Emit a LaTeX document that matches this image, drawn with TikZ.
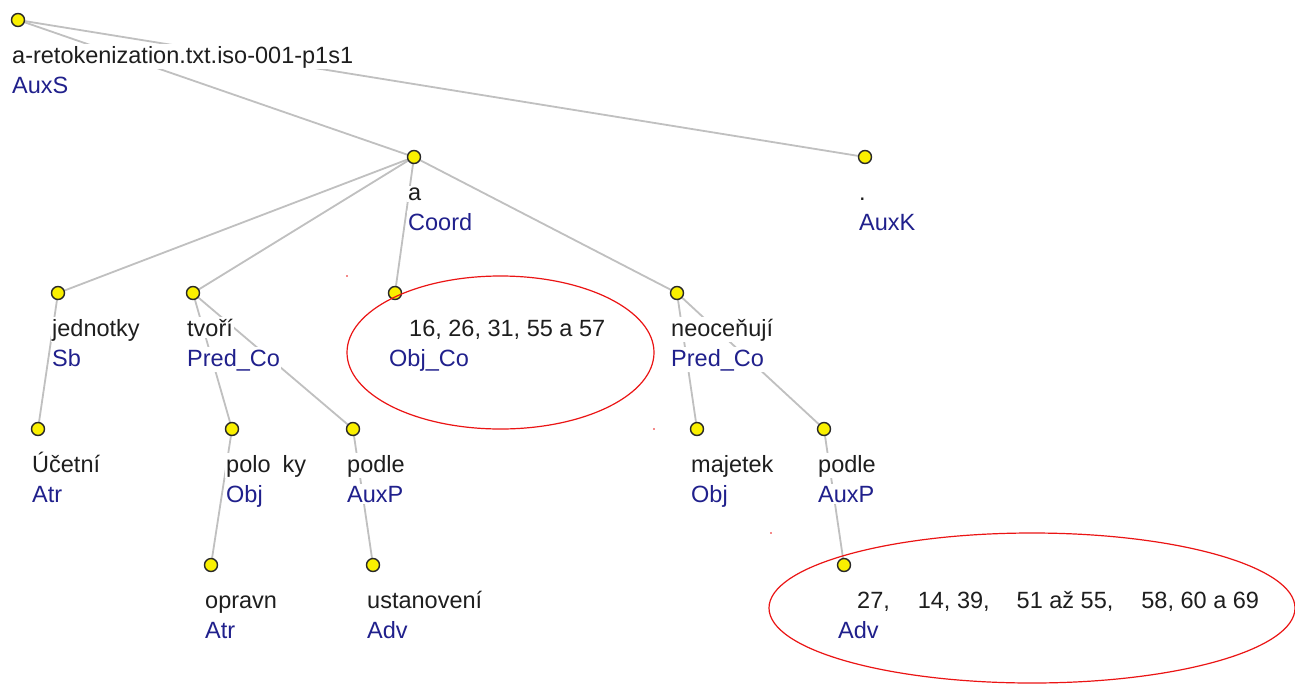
\documentclass[tikz,border=0pt]{standalone}
\usepackage{fontspec}
\setmainfont{Liberation Sans}
\usetikzlibrary{backgrounds}
\pgfdeclarelayer{bottom}
\pgfsetlayers{bottom,background,main}
\definecolor{wordc}{RGB}{30,30,30}
\definecolor{tagc}{RGB}{32,32,140}
\definecolor{edgec}{RGB}{192,192,192}
\definecolor{dotfill}{RGB}{250,240,0}
\definecolor{dotline}{RGB}{40,40,40}
\definecolor{ringc}{RGB}{235,20,20}
\tikzset{
 dot/.style={circle,fill=dotfill,draw=dotline,line width=1.4pt,minimum size=13pt,inner sep=0pt},
 edge/.style={draw=edgec,line width=1.8pt},
 wordlbl/.style={anchor=base west,fill=white,inner xsep=1pt,inner ysep=1.5pt,text=wordc,font=\fontsize{23.5}{28}\selectfont},
 taglbl/.style={wordlbl,text=tagc},
 ring/.style={draw=ringc,line width=1.2pt},
}
\newcommand\tnode[5]{%
 \node[dot] (#1) at (#2,#3) {};
 \node[wordlbl] (#1w) at (#2-7,#3+43) {#4};
 \node[taglbl] (#1t) at (#2-7,#3+73) {#5};
}
\begin{document}
\begin{tikzpicture}[x=1pt,y=-1pt]
\begin{pgfonlayer}{bottom}
\fill[white] (0,0) rectangle (1295,683);
\end{pgfonlayer}
\useasboundingbox (0,0) rectangle (1295,683);
\tnode{root}{18}{20}{a-retokenization.txt.iso-001-p1s1}{AuxS}
\tnode{coord}{414}{157}{a}{Coord}
\tnode{auxk}{865}{157}{.}{AuxK}
\tnode{jedn}{58}{293}{jednotky}{Sb}
\tnode{tvori}{193}{293}{tvoří}{Pred\_Co}
\tnode{neoc}{677}{293}{neoceňují}{Pred\_Co}
\tnode{ucet}{38}{429}{Účetní}{Atr}
\tnode{polo}{232}{429}{polo\hspace{12pt}ky}{Obj}
\tnode{podlea}{353}{429}{podle}{AuxP}
\tnode{maj}{697}{429}{majetek}{Obj}
\tnode{podleb}{824}{429}{podle}{AuxP}
\tnode{oprav}{211}{565}{opravn}{Atr}
\tnode{ustan}{373}{565}{ustanovení}{Adv}
% indented texts
\node[dot] (objco) at (395,293) {};
\node[wordlbl] (objcow) at (408,336) {16, 26, 31, 55 a 57};
\node[taglbl] (objcot) at (388,366) {Obj\_Co};
\node[dot] (adv) at (844,565) {};
\node[wordlbl] (advw) at (856,608) {27,\hspace{28pt}14, 39,\hspace{27pt}51 až 55,\hspace{28pt}58, 60 a 69};
\node[taglbl] (advt) at (837,638) {Adv};
\begin{pgfonlayer}{background}
\draw[edge] (root) -- (coord);
\draw[edge] (root) -- (auxk);
\draw[edge] (coord) -- (jedn);
\draw[edge] (coord) -- (tvori);
\draw[edge] (coord) -- (objco);
\draw[edge] (coord) -- (neoc);
\draw[edge] (jedn) -- (ucet);
\draw[edge] (tvori) -- (polo);
\draw[edge] (tvori) -- (podlea);
\draw[edge] (polo) -- (oprav);
\draw[edge] (podlea) -- (ustan);
\draw[edge] (neoc) -- (maj);
\draw[edge] (neoc) -- (podleb);
\draw[edge] (podleb) -- (adv);
\end{pgfonlayer}
\draw[ring] (500.5,352.5) ellipse [x radius=153.5, y radius=76.5];
\draw[ring] (1032,608) ellipse [x radius=263, y radius=75];
\fill[ringc] (347,276) circle (0.8);
\fill[ringc] (654,429) circle (0.8);
\fill[ringc] (771,533) circle (0.8);
\end{tikzpicture}
\end{document}
